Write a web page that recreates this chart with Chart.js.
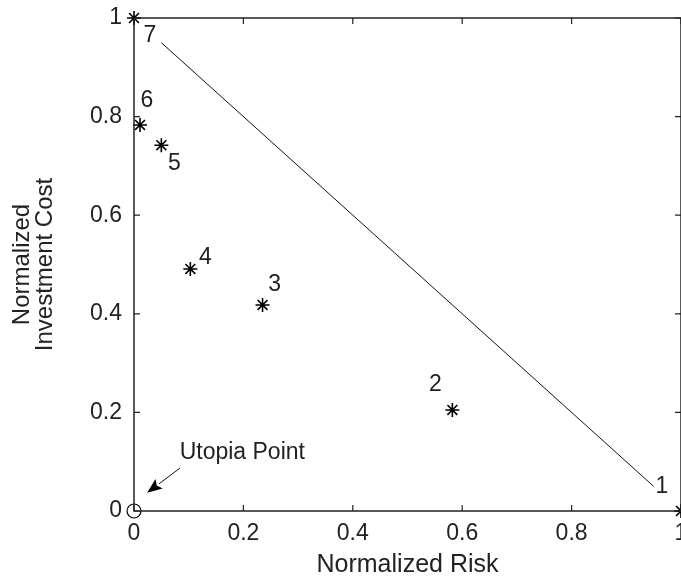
<!DOCTYPE html>
<html>
<head>
<meta charset="utf-8">
<script src="https://cdn.jsdelivr.net/npm/chart.js@4.4.1/dist/chart.umd.min.js"></script>
<style>
  html, body { margin: 0; padding: 0; background: #ffffff; }
  #wrap { width: 681px; height: 579px; }
</style>
</head>
<body>
<div id="wrap"><canvas id="c" width="681" height="579"></canvas></div>
<script>
// ---- data ----
const pointLabels = ['1', '2', '3', '4', '5', '6', '7'];
const riskValues  = [1.0, 0.582, 0.235, 0.103, 0.05, 0.011, 0.0];
const costValues  = [0.0, 0.205, 0.418, 0.491, 0.742, 0.783, 1.0];
const frontRisk = [0.05, 0.95];
const frontCost = [0.95, 0.05];
const utopiaRisk = [0];
const utopiaCost = [0];
const utopiaLabel = 'Utopia Point';
const xTickValues = [0, 0.2, 0.4, 0.6, 0.8, 1];
const yTickValues = [0, 0.2, 0.4, 0.6, 0.8, 1];
const xTickLabels = ['0', '0.2', '0.4', '0.6', '0.8', '1'];
const yTickLabels = ['0', '0.2', '0.4', '0.6', '0.8', '1'];
const xTitle = 'Normalized Risk';
const yTitle = ['Normalized', 'Investment Cost'];

// ---- styles (pixel offsets for annotation text) ----
const labelOffsets = [[-19, -24], [-17, -25], [12, -20], [15, -11], [13, 18], [7, -24], [16, 18]];
const utopiaTextPos = [0.198, 0.118];
const arrowTail = [0.084, 0.087];
const arrowHead = [0.024, 0.037];

const FONT = 'Liberation Sans, Arial, Helvetica, sans-serif';
const TXT = '#222222';

const starPts = riskValues.map((x, i) => ({ x: x, y: costValues[i] }));
const frontPts = frontRisk.map((x, i) => ({ x: x, y: frontCost[i] }));
const utopiaPts = utopiaRisk.map((x, i) => ({ x: x, y: utopiaCost[i] }));

const annotate = {
  id: 'annotate',
  afterDatasetsDraw(chart) {
    const ctx = chart.ctx;
    const xs = chart.scales.x, ys = chart.scales.y;
    const a = chart.chartArea;
    ctx.save();
    // box
    ctx.strokeStyle = TXT;
    ctx.lineWidth = 1.5;
    ctx.strokeRect(a.left, a.top, a.right - a.left, a.bottom - a.top);
    // inward ticks
    const tl = 6;
    ctx.lineWidth = 1.2;
    ctx.beginPath();
    xTickValues.forEach(v => {
      const px = xs.getPixelForValue(v);
      ctx.moveTo(px, a.bottom); ctx.lineTo(px, a.bottom - tl);
      ctx.moveTo(px, a.top); ctx.lineTo(px, a.top + tl);
    });
    yTickValues.forEach(v => {
      const py = ys.getPixelForValue(v);
      ctx.moveTo(a.left, py); ctx.lineTo(a.left + tl, py);
      ctx.moveTo(a.right, py); ctx.lineTo(a.right - tl, py);
    });
    ctx.stroke();
    // point labels
    ctx.fillStyle = TXT;
    ctx.font = '23px ' + FONT;
    ctx.textAlign = 'center';
    ctx.textBaseline = 'middle';
    pointLabels.forEach((t, i) => {
      const px = xs.getPixelForValue(riskValues[i]);
      const py = ys.getPixelForValue(costValues[i]);
      ctx.fillText(t, px + labelOffsets[i][0], py + labelOffsets[i][1]);
    });
    // utopia text
    ctx.fillText(utopiaLabel, xs.getPixelForValue(utopiaTextPos[0]), ys.getPixelForValue(utopiaTextPos[1]));
    // arrow
    const tx = xs.getPixelForValue(arrowTail[0]), ty = ys.getPixelForValue(arrowTail[1]);
    const hx = xs.getPixelForValue(arrowHead[0]), hy = ys.getPixelForValue(arrowHead[1]);
    const ang = Math.atan2(hy - ty, hx - tx);
    const L = 15, W = 6;
    const bx = hx - L * Math.cos(ang), by = hy - L * Math.sin(ang);
    ctx.lineWidth = 1;
    ctx.strokeStyle = '#111';
    ctx.beginPath();
    ctx.moveTo(tx, ty); ctx.lineTo(bx, by);
    ctx.stroke();
    ctx.fillStyle = '#000';
    ctx.beginPath();
    ctx.moveTo(hx, hy);
    ctx.lineTo(bx + W * Math.sin(ang), by - W * Math.cos(ang));
    ctx.lineTo(bx + 3 * Math.cos(ang), by + 3 * Math.sin(ang));
    ctx.lineTo(bx - W * Math.sin(ang), by + W * Math.cos(ang));
    ctx.closePath();
    ctx.fill();
    ctx.restore();
  }
};

new Chart(document.getElementById('c'), {
  type: 'scatter',
  data: {
    datasets: [
      {
        type: 'line',
        data: frontPts,
        borderColor: '#111',
        borderWidth: 1,
        pointRadius: 0,
        fill: false,
        tension: 0
      },
      {
        data: starPts,
        pointStyle: 'star',
        pointRadius: 7,
        pointBorderWidth: 1.6,
        borderColor: '#000',
        backgroundColor: '#000',
        clip: false
      },
      {
        data: utopiaPts,
        pointStyle: 'circle',
        pointRadius: 7,
        pointBorderWidth: 1.2,
        borderColor: '#000',
        backgroundColor: 'rgba(255,255,255,0)',
        clip: false
      }
    ]
  },
  options: {
    responsive: false,
    animation: false,
    events: [],
    layout: { autoPadding: false, padding: { left: 0, top: 18, right: -1, bottom: 0 } },
    plugins: { legend: { display: false }, tooltip: { enabled: false } },
    scales: {
      x: {
        type: 'linear', min: 0, max: 1,
        afterBuildTicks(s) { s.ticks = xTickValues.map(v => ({ value: v })); },
        afterFit(s) { s.height = 68; s.paddingLeft = 0; s.paddingRight = 0; },
        grid: { display: false, drawTicks: false },
        border: { display: false },
        ticks: {
          padding: 9,
          color: TXT,
          font: { family: FONT, size: 23 },
          callback: (v) => xTickLabels[xTickValues.indexOf(v)],
          maxRotation: 0, autoSkip: false
        },
        title: {
          display: true, text: xTitle, color: TXT,
          font: { family: FONT, size: 25, lineHeight: 1.1 },
          padding: { top: 0, bottom: 0 }
        }
      },
      y: {
        type: 'linear', min: 0, max: 1,
        afterBuildTicks(s) { s.ticks = yTickValues.map(v => ({ value: v })); },
        afterFit(s) { s.width = 134; s.paddingTop = 0; s.paddingBottom = 0; },
        grid: { display: false, drawTicks: false },
        border: { display: false },
        ticks: {
          padding: 12,
          color: TXT,
          font: { family: FONT, size: 23 },
          callback: (v) => yTickLabels[yTickValues.indexOf(v)],
          autoSkip: false
        },
        title: {
          display: true, text: yTitle, color: TXT,
          font: { family: FONT, size: 24, lineHeight: 0.96 },
          padding: { top: 11, bottom: 0 }
        }
      }
    }
  },
  plugins: [annotate]
});
</script>
</body>
</html>
